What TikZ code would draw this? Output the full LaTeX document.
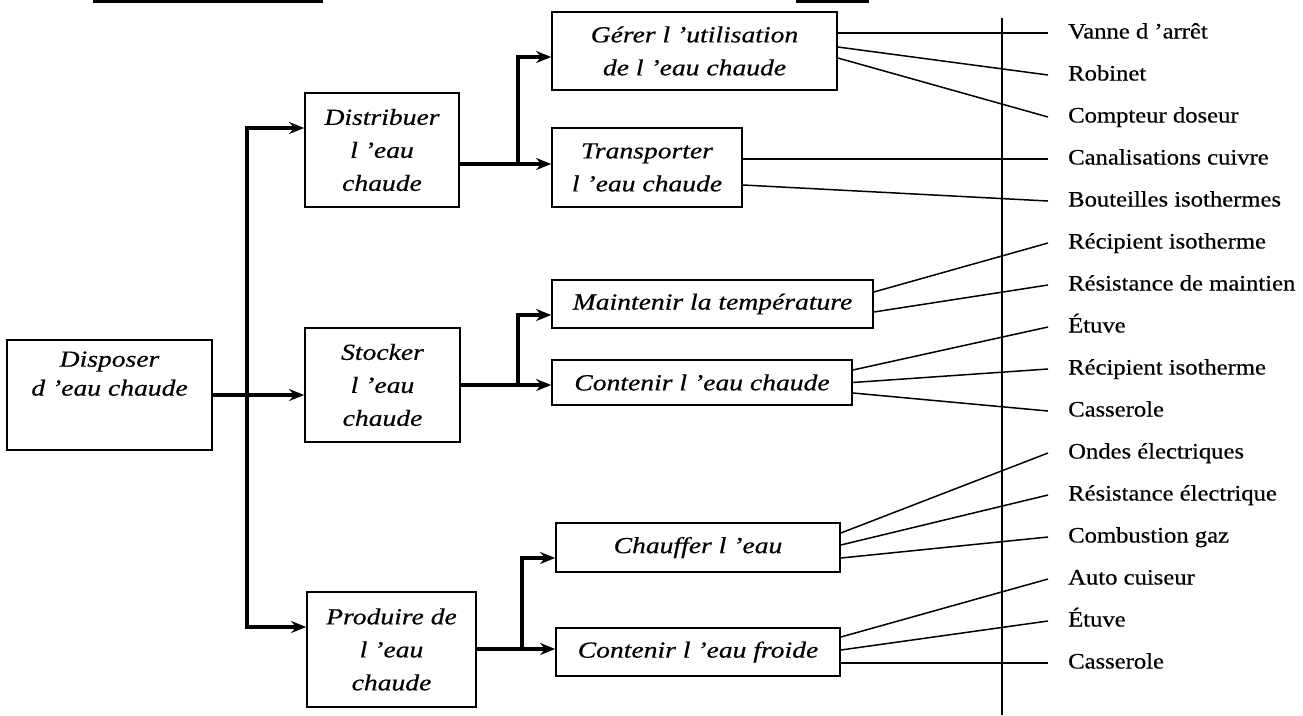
\documentclass[tikz,border=0pt]{standalone}
\usepackage{fontspec}
\setmainfont{Liberation Serif}[FakeStretch=1.2, FakeBold=0.5]
\newfontfamily\solfont{Liberation Serif}[Ligatures=TeX, FakeStretch=1.12, FakeBold=0.5]
\usetikzlibrary{arrows.meta}

\begin{document}
\begin{tikzpicture}  % ------ Disposer d'eau chaude -------------------
      [x=1pt, y=-1pt,
       boite/.style={draw, line width=1.7pt, align=center, inner sep=0pt,
                     font=\fontsize{23}{33}\selectfont\itshape},
       fleche/.style={line width=4pt, -{Stealth[length=15pt,width=12pt]}},
       trait/.style={line width=1.5pt},
       solution/.style={anchor=west, inner xsep=20pt, inner ysep=0pt,
                        text height=16pt, text depth=5pt,
                        font=\solfont\fontsize{22}{26}\selectfont}]

    \useasboundingbox (0,0) rectangle (1303,715);

    % restes du haut de page
    \draw[line width=2.5pt] (93,1.5) -- (323,1.5);
    \draw[line width=2.5pt] (796,1.5) -- (869,1.5);

    % fonctions
    \node[boite, minimum width=205, minimum height=110] (disp) at (109.5,395) {Disposer\\[-4pt]d 'eau chaude\\\strut};
    \node[boite, minimum width=154, minimum height=114] (distr) at (382,150) {Distribuer\\l 'eau\\chaude};
    \node[boite, minimum width=155, minimum height=114] (stock) at (382.5,385) {Stocker\\l 'eau\\chaude};
    \node[boite, minimum width=169, minimum height=115] (prod) at (391.5,649.5) {Produire de\\l 'eau\\chaude};

    \node[boite, minimum width=285, minimum height=78] (gerer) at (694.5,51) {G\'erer l 'utilisation\\de l 'eau chaude};
    \node[boite, minimum width=190, minimum height=79] (transp) at (647,167.5) {Transporter\\l 'eau chaude};
    \node[boite, minimum width=321, minimum height=48] (maint) at (712.5,304) {Maintenir la temp\'erature};
    \node[boite, minimum width=300, minimum height=45] (contc) at (702,382.5) {Contenir l 'eau chaude};
    \node[boite, minimum width=284, minimum height=49] (chauf) at (698,547.5) {Chauffer l 'eau};
    \node[boite, minimum width=284, minimum height=48] (contf) at (698,652) {Contenir l 'eau froide};

    % solutions
    \node[solution] (s1) at (1048,33) {Vanne d 'arr\^et};
    \node[solution] (s2) at (1048,75) {Robinet};
    \node[solution] (s3) at (1048,117) {Compteur doseur};
    \node[solution] (s4) at (1048,159) {Canalisations cuivre};
    \node[solution] (s5) at (1048,201) {Bouteilles isothermes};
    \node[solution] (s6) at (1048,243) {R\'ecipient isotherme};
    \node[solution] (s7) at (1048,285) {R\'esistance de maintien};
    \node[solution] (s8) at (1048,327) {\'Etuve};
    \node[solution] (s9) at (1048,369) {R\'ecipient isotherme};
    \node[solution] (s10) at (1048,411) {Casserole};
    \node[solution] (s11) at (1048,453) {Ondes \'electriques};
    \node[solution] (s12) at (1048,495) {R\'esistance \'electrique};
    \node[solution] (s13) at (1048,537) {Combustion gaz};
    \node[solution] (s14) at (1048,579) {Auto cuiseur};
    \node[solution] (s15) at (1048,621) {\'Etuve};
    \node[solution] (s16) at (1048,663) {Casserole};

    % tronc
    \coordinate (t1) at (247,128);
    \coordinate (t3) at (247,627);
    \draw[fleche] (t3) -- (t1) -- (t1 -| distr.west);
    \draw[fleche] (t1) -- (t3) -- (t3 -| prod.west);
    \draw[fleche] (disp.east) -- (disp.east -| stock.west);

    % branches
    \coordinate (j1) at (518,164);
    \coordinate (g1) at (518,57);
    \draw[fleche] (distr.east |- j1) -- (j1 -| transp.west);
    \draw[fleche] (j1) -- (g1) -- (g1 -| gerer.west);

    \coordinate (j2) at (518,385);
    \coordinate (m1) at (518,315);
    \draw[fleche] (stock.east |- j2) -- (j2 -| contc.west);
    \draw[fleche] (j2) -- (m1) -- (m1 -| maint.west);

    \coordinate (j3) at (522,649);
    \coordinate (c1) at (522,558);
    \draw[fleche] (prod.east |- j3) -- (j3 -| contf.west);
    \draw[fleche] (j3) -- (c1) -- (c1 -| chauf.west);

    % frontiere
    \coordinate (v1) at (1002,18);
    \coordinate (v2) at (1002,715);
    \draw[line width=2.2pt] (v1) -- (v2);

    % liaisons fonctions - solutions
    \draw[trait] ([yshift=18pt]gerer.east) -- (s1.west);
    \draw[trait] ([yshift=4pt]gerer.east) -- (s2.west);
    \draw[trait] ([yshift=-7pt]gerer.east) -- (s3.west);
    \draw[trait] ([yshift=8.5pt]transp.east) -- (s4.west);
    \draw[trait] ([yshift=-17.5pt]transp.east) -- (s5.west);
    \draw[trait] ([yshift=12pt]maint.east) -- (s6.west);
    \draw[trait] ([yshift=-8pt]maint.east) -- (s7.west);
    \draw[trait] ([yshift=12.5pt]contc.east) -- (s8.west);
    \draw[trait] (contc.east) -- (s9.west);
    \draw[trait] ([yshift=-10.5pt]contc.east) -- (s10.west);
    \draw[trait] ([yshift=14.5pt]chauf.east) -- (s11.west);
    \draw[trait] ([yshift=2.5pt]chauf.east) -- (s12.west);
    \draw[trait] ([yshift=-10.5pt]chauf.east) -- (s13.west);
    \draw[trait] ([yshift=15pt]contf.east) -- (s14.west);
    \draw[trait] ([yshift=2pt]contf.east) -- (s15.west);
    \draw[trait] ([yshift=-11pt]contf.east) -- (s16.west);
\end{tikzpicture}
\end{document}
